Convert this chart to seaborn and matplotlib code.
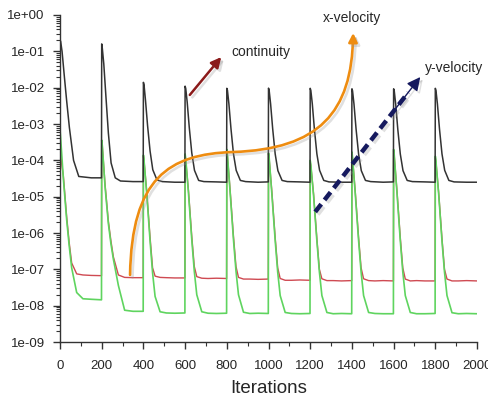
import numpy as np
import pandas as pd
import matplotlib
matplotlib.use("Agg")
import matplotlib.pyplot as plt
import matplotlib.patheffects as pe
from matplotlib.patches import FancyArrowPatch
from matplotlib.path import Path
from matplotlib.ticker import FuncFormatter, MultipleLocator, LogLocator, NullFormatter
import seaborn as sns

# Restart points of the solver (one run every 200 iterations)
cycle_starts = [0, 200, 400, 600, 800, 1000, 1200, 1400, 1600, 1800]

black_offsets = [0, 3, 10, 20, 32, 45, 65, 90, 150, 199]
vel_offsets = [0, 3, 16, 32, 44, 56, 80, 110, 150, 199]

# continuity residual, one row per cycle
continuity = [
    [2.0e-1, 1.9e-1, 9.8e-2, 2.3e-2, 4.3e-3, 8.0e-4, 1.0e-4, 3.6e-5, 3.3e-5, 3.3e-5],
    [1.6e-1, 1.2e-1, 4.5e-2, 6.0e-3, 5.6e-4, 8.5e-5, 3.3e-5, 2.7e-5, 2.6e-5, 2.6e-5],
    [1.4e-2, 1.2e-2, 4.5e-3, 9.0e-4, 1.8e-4, 5.5e-5, 2.9e-5, 2.6e-5, 2.5e-5, 2.5e-5],
    [1.1e-2, 9.5e-3, 4.0e-3, 8.0e-4, 1.6e-4, 5.3e-5, 2.8e-5, 2.6e-5, 2.55e-5, 2.5e-5],
    [9.6e-3, 8.5e-3, 3.6e-3, 7.4e-4, 1.5e-4, 5.3e-5, 2.8e-5, 2.6e-5, 2.5e-5, 2.55e-5],
    [9.7e-3, 8.5e-3, 3.6e-3, 7.4e-4, 1.5e-4, 5.2e-5, 2.8e-5, 2.6e-5, 2.55e-5, 2.5e-5],
    [9.6e-3, 8.4e-3, 3.6e-3, 7.3e-4, 1.5e-4, 5.3e-5, 2.8e-5, 2.55e-5, 2.5e-5, 2.5e-5],
    [9.3e-3, 8.2e-3, 3.5e-3, 7.2e-4, 1.5e-4, 5.2e-5, 2.8e-5, 2.6e-5, 2.5e-5, 2.55e-5],
    [9.3e-3, 8.2e-3, 3.5e-3, 7.2e-4, 1.5e-4, 5.2e-5, 2.8e-5, 2.6e-5, 2.55e-5, 2.5e-5],
    [9.6e-3, 8.4e-3, 3.6e-3, 7.3e-4, 1.5e-4, 5.3e-5, 2.8e-5, 2.55e-5, 2.5e-5, 2.5e-5],
]

# x-velocity residual
x_velocity = [
    [1.5e-4, 1.3e-4, 3.8e-5, 2.8e-6, 5.5e-7, 1.5e-7, 7.5e-8, 7.0e-8, 6.8e-8, 6.7e-8],
    [3.2e-4, 2.4e-4, 2.2e-5, 2.1e-6, 6.2e-7, 2.2e-7, 7.0e-8, 6.0e-8, 5.9e-8, 5.9e-8],
    [1.3e-4, 9.5e-5, 1.4e-5, 7.5e-7, 1.1e-7, 6.5e-8, 6.0e-8, 5.9e-8, 5.8e-8, 5.8e-8],
    [1.4e-4, 1.0e-4, 1.5e-5, 8.0e-7, 1.2e-7, 6.3e-8, 5.7e-8, 5.6e-8, 5.7e-8, 5.6e-8],
    [1.8e-4, 1.3e-4, 1.5e-5, 8.0e-7, 1.2e-7, 6.0e-8, 5.4e-8, 5.4e-8, 5.3e-8, 5.4e-8],
    [1.5e-4, 1.1e-4, 1.4e-5, 7.5e-7, 1.1e-7, 5.6e-8, 5.0e-8, 5.0e-8, 5.1e-8, 5.0e-8],
    [9.0e-5, 7.0e-5, 1.2e-5, 7.0e-7, 1.0e-7, 5.5e-8, 4.9e-8, 4.9e-8, 4.8e-8, 4.9e-8],
    [1.6e-4, 1.1e-4, 1.4e-5, 7.5e-7, 1.1e-7, 5.5e-8, 4.9e-8, 4.8e-8, 4.9e-8, 4.8e-8],
    [1.8e-4, 1.3e-4, 1.5e-5, 7.5e-7, 1.1e-7, 5.4e-8, 4.8e-8, 4.9e-8, 4.8e-8, 4.8e-8],
    [1.2e-4, 9.0e-5, 1.3e-5, 7.0e-7, 1.0e-7, 5.4e-8, 4.8e-8, 4.8e-8, 4.9e-8, 4.8e-8],
]

# y-velocity residual
y_velocity = [
    [7.0e-4, 4.2e-4, 3.2e-5, 2.3e-6, 4.5e-7, 1.1e-7, 2.3e-8, 1.55e-8, 1.5e-8, 1.45e-8],
    [3.6e-4, 2.5e-4, 1.9e-5, 1.8e-6, 5.2e-7, 1.9e-7, 3.6e-8, 7.5e-9, 7.0e-9, 7.0e-9],
    [1.4e-4, 1.0e-4, 1.2e-5, 6.0e-7, 8.0e-8, 1.8e-8, 6.8e-9, 6.3e-9, 6.2e-9, 6.3e-9],
    [1.5e-4, 1.1e-4, 1.3e-5, 6.5e-7, 9.0e-8, 2.0e-8, 6.8e-9, 6.2e-9, 6.1e-9, 6.2e-9],
    [2.0e-4, 1.4e-4, 1.3e-5, 6.5e-7, 9.0e-8, 2.0e-8, 6.6e-9, 6.1e-9, 6.2e-9, 6.1e-9],
    [1.6e-4, 1.2e-4, 1.2e-5, 6.2e-7, 8.5e-8, 1.9e-8, 6.5e-9, 6.1e-9, 6.0e-9, 6.1e-9],
    [1.0e-4, 7.5e-5, 1.1e-5, 6.0e-7, 8.5e-8, 1.9e-8, 6.5e-9, 6.0e-9, 6.1e-9, 6.0e-9],
    [1.7e-4, 1.2e-4, 1.2e-5, 6.2e-7, 8.5e-8, 1.9e-8, 6.5e-9, 6.1e-9, 6.0e-9, 6.0e-9],
    [2.0e-4, 1.4e-4, 1.3e-5, 6.2e-7, 8.5e-8, 1.9e-8, 6.5e-9, 6.0e-9, 6.0e-9, 6.1e-9],
    [1.3e-4, 9.5e-5, 1.2e-5, 6.0e-7, 8.5e-8, 1.9e-8, 6.4e-9, 6.0e-9, 6.1e-9, 6.0e-9],
]


def to_frame(rows, offsets, name):
    its, vals = [], []
    for c, row in zip(cycle_starts, rows):
        for o, v in zip(offsets, row):
            its.append(c + o)
            vals.append(v)
    return pd.DataFrame({"iteration": its, "residual": vals, "series": name})


df = pd.concat([
    to_frame(x_velocity, vel_offsets, "x-velocity"),
    to_frame(y_velocity, vel_offsets, "y-velocity"),
    to_frame(continuity, black_offsets, "continuity"),
], ignore_index=True)

sns.set_style("ticks")
plt.rcParams["font.family"] = ["Liberation Sans", "DejaVu Sans"]

fig = plt.figure(figsize=(4.89, 4.01), dpi=100)
ax = fig.add_axes([0.1227, 0.1471, 0.8528, 0.8155])

styles = {
    "x-velocity": ("#cf4a52", 1.0),
    "y-velocity": ("#5fd45f", 1.2),
    "continuity": ("#333333", 1.1),
}
for name, (col, lw) in styles.items():
    sns.lineplot(data=df[df["series"] == name], x="iteration", y="residual",
                 color=col, linewidth=lw, estimator=None, sort=False, ax=ax)

ax.set_yscale("log")
ax.set_ylim(1e-9, 1e0)
ax.set_xlim(0, 2000)
ax.xaxis.set_major_locator(MultipleLocator(200))
ax.xaxis.set_minor_locator(MultipleLocator(100))
ax.yaxis.set_major_locator(LogLocator(base=10, numticks=12))
ax.yaxis.set_minor_locator(LogLocator(base=10, subs=np.arange(2, 10), numticks=12))
ax.yaxis.set_minor_formatter(NullFormatter())
ax.yaxis.set_major_formatter(FuncFormatter(lambda v, _: f"{v:.0e}"))

ax.tick_params(axis="both", which="major", direction="out", length=5, width=1,
               color="#333333", labelsize=9.5)
ax.tick_params(axis="both", which="minor", direction="out", length=3, width=0.8,
               color="#333333")
ax.tick_params(axis="x", pad=8)
ax.tick_params(axis="y", pad=6)
for s in ["top", "right"]:
    ax.spines[s].set_visible(False)
for s in ["left", "bottom"]:
    ax.spines[s].set_color("#333333")
    ax.spines[s].set_linewidth(1.0)

ax.set_xlabel("Iterations", fontsize=13.5, labelpad=6)
ax.set_ylabel("")

shadow = [pe.SimpleLineShadow(offset=(1.8, -1.8), shadow_color="0.6", alpha=0.3), pe.Normal()]

# orange S-shaped arrow (x-velocity)
verts = [(0.168, 0.205), (0.172, 0.50), (0.26, 0.575), (0.415, 0.581),
         (0.62, 0.59), (0.70, 0.70), (0.703, 0.945)]
codes = [Path.MOVETO] + [Path.CURVE4] * 6
orange = FancyArrowPatch(path=Path(verts, codes), arrowstyle="-|>", mutation_scale=13,
                         color="#ee8c10", linewidth=1.9, transform=ax.transAxes,
                         clip_on=False, zorder=5, path_effects=shadow)
ax.add_patch(orange)

# dark red arrow (continuity)
red_arrow = FancyArrowPatch((0.307, 0.749), (0.391, 0.878), arrowstyle="-|>",
                            mutation_scale=15, color="#8b1a1a", linewidth=1.8,
                            transform=ax.transAxes, clip_on=False, zorder=5,
                            path_effects=shadow)
ax.add_patch(red_arrow)

# navy dashed arrow (y-velocity)
ax.plot([0.612, 0.835], [0.398, 0.763], transform=ax.transAxes, color="#15195e",
        linewidth=3.2, linestyle=(0, (2.2, 1.2)), clip_on=False, zorder=5,
        path_effects=shadow)
head = FancyArrowPatch((0.80, 0.706), (0.868, 0.817), arrowstyle="-|>",
                       mutation_scale=20, color="#15195e", linewidth=1.0,
                       transform=ax.transAxes, clip_on=False, zorder=5,
                       path_effects=shadow)
ax.add_patch(head)

ax.text(0.700, 0.991, "x-velocity", transform=ax.transAxes, ha="center", va="center",
        fontsize=10)
ax.text(0.412, 0.887, "continuity", transform=ax.transAxes, ha="left", va="center",
        fontsize=10)
ax.text(0.875, 0.838, "y-velocity", transform=ax.transAxes, ha="left", va="center",
        fontsize=10, clip_on=False)

fig.savefig("out.png", dpi=100)
